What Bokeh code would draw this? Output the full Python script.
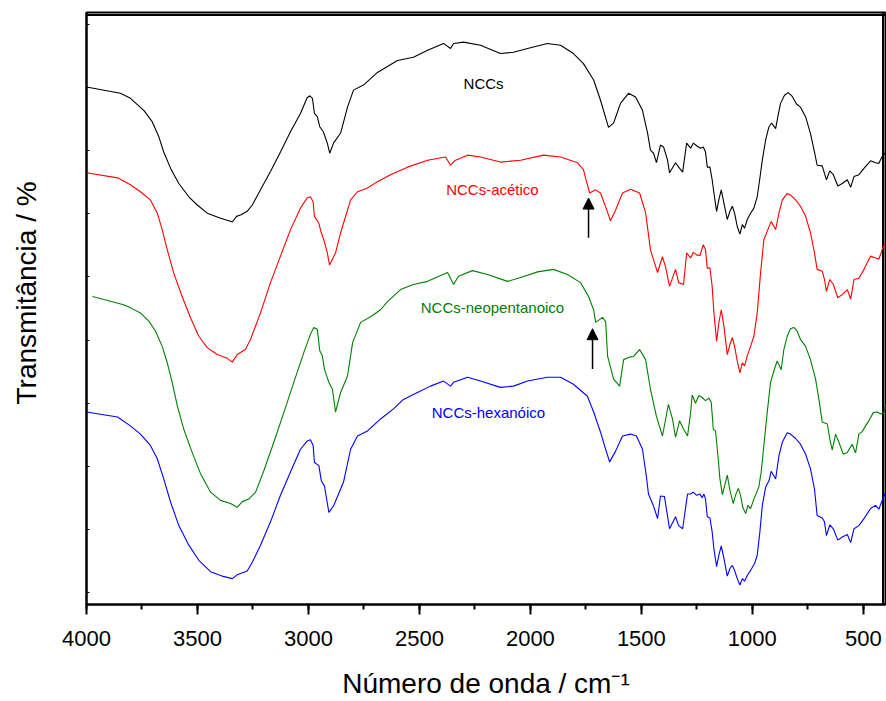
from bokeh.plotting import figure
from bokeh.models import (Range1d, SingleIntervalTicker, FixedTicker, Label, Arrow, NormalHead)
from bokeh.embed import file_html
from bokeh.resources import INLINE

# FTIR spectra (wavenumber in cm^-1, transmittance in offset arbitrary units)
nccs_wn = [4000, 3847, 3802, 3742, 3704, 3674, 3652, 3621, 3584, 3539, 3501, 3456, 3396, 3359, 3343, 3324,
           3306, 3276, 3253, 3216, 3171, 3126, 3081, 3036, 3006, 2994, 2982, 2973, 2960, 2949, 2933, 2915,
           2904, 2887, 2855, 2824, 2797, 2752, 2689, 2599, 2527, 2463, 2391, 2360, 2346, 2301, 2225, 2135,
           2076, 2013, 1923, 1864, 1806, 1761, 1715, 1684, 1648, 1625, 1594, 1558, 1526, 1495, 1472, 1459,
           1445, 1432, 1414, 1400, 1382, 1373, 1346, 1332, 1314, 1296, 1278, 1266, 1248, 1233, 1221, 1211,
           1203, 1191, 1181, 1173, 1161, 1151, 1140, 1128, 1113, 1101, 1090, 1080, 1068, 1056, 1045, 1035,
           1023, 1008, 993, 978, 967, 955, 940, 925, 913, 895, 885, 873, 855, 838, 820, 801, 783, 760, 738,
           720, 708, 685, 675, 666, 651, 635, 615, 595, 572, 557, 542, 520, 497, 467, 445, 430, 415, 400]
nccs_t = [80.1, 79.1, 78.3, 76.4, 74.6, 72.2, 69.8, 67.2, 64.8, 62.7, 61.4, 60.1, 59.3, 58.9, 58.7, 59.6,
          59.8, 60.4, 61.4, 63.8, 66.7, 69.8, 73.0, 75.9, 78.4, 78.7, 78.3, 75.9, 75.4, 73.8, 73.0, 71.2,
          69.6, 71.2, 72.8, 76.9, 79.6, 80.4, 82.4, 84.3, 84.8, 85.9, 87.0, 86.2, 87.0, 87.2, 86.7, 85.4,
          85.6, 86.2, 87.0, 86.7, 85.4, 83.8, 81.2, 78.0, 73.7, 74.4, 77.5, 79.1, 78.5, 76.4, 72.8, 70.1,
          69.6, 68.1, 70.9, 70.6, 68.5, 66.5, 68.1, 67.4, 66.6, 71.2, 70.4, 71.2, 70.7, 70.4, 70.6, 69.8,
          67.4, 67.4, 65.4, 63.3, 60.4, 62.2, 63.8, 61.7, 59.1, 60.4, 61.2, 60.1, 58.0, 56.8, 58.3, 57.7,
          59.1, 60.1, 60.9, 62.7, 65.4, 68.5, 71.7, 73.8, 74.4, 73.5, 75.4, 77.5, 78.8, 79.2, 78.6, 77.4, 76.9,
          75.4, 72.7, 69.8, 67.7, 67.6, 66.4, 65.4, 66.8, 66.2, 64.4, 64.8, 65.4, 64.2, 65.9, 66.2, 67.2,
          68.4, 68.1, 68.0, 69.1, 69.7]

acetico_wn = [4000, 3860, 3802, 3757, 3712, 3681, 3659, 3636, 3607, 3569, 3531, 3494, 3456, 3411, 3366, 3343,
              3321, 3284, 3261, 3216, 3171, 3126, 3081, 3036, 3006, 2991, 2979, 2973, 2953, 2942, 2931, 2915,
              2905, 2878, 2855, 2810, 2779, 2734, 2689, 2630, 2554, 2463, 2382, 2360, 2337, 2283, 2225, 2135,
              2044, 1941, 1864, 1788, 1761, 1747, 1733, 1706, 1684, 1661, 1639, 1616, 1585, 1549, 1508, 1481,
              1459, 1445, 1427, 1405, 1391, 1373, 1346, 1332, 1310, 1296, 1278, 1266, 1251, 1236, 1221, 1211,
              1203, 1191, 1181, 1173, 1161, 1151, 1140, 1128, 1113, 1101, 1090, 1080, 1068, 1056, 1045, 1035,
              1023, 1008, 993, 978, 963, 948, 930, 915, 895, 880, 865, 843, 828, 805, 783, 760, 738, 720, 708,
              685, 675, 666, 651, 635, 615, 595, 572, 557, 542, 520, 497, 467, 445, 430, 415, 400]
acetico_t = [66.5, 65.7, 64.6, 63.5, 62.2, 60.1, 57.5, 54.3, 50.6, 46.9, 43.5, 40.6, 38.8, 37.7, 37.1, 36.5,
             37.7, 38.5, 40.1, 44.3, 49.1, 53.3, 57.5, 60.9, 62.5, 62.7, 61.9, 59.6, 58.5, 57.0, 55.9, 53.8,
             51.9, 53.8, 57.0, 62.2, 63.5, 64.1, 65.1, 66.2, 67.4, 68.5, 69.0, 67.7, 68.5, 69.3, 69.0, 68.2,
             68.5, 69.3, 69.0, 68.1, 67.0, 65.1, 63.3, 63.8, 63.3, 61.1, 58.9, 60.6, 63.3, 63.9, 63.3, 60.2,
             54.3, 52.7, 50.7, 53.2, 51.6, 48.5, 51.2, 49.1, 48.8, 53.8, 53.0, 53.9, 53.5, 53.4, 55.1, 54.3,
             51.4, 51.4, 48.5, 44.3, 39.8, 42.7, 44.8, 42.2, 37.7, 39.3, 40.4, 39.0, 36.7, 34.8, 36.4, 35.9,
             37.5, 39.0, 40.6, 44.3, 50.6, 55.9, 57.5, 58.8, 57.5, 60.1, 62.2, 63.2, 63.0, 62.2, 61.2, 59.6,
             57.0, 53.8, 51.2, 50.9, 49.6, 47.7, 49.6, 48.8, 46.7, 47.2, 48.0, 46.5, 49.6, 49.8, 51.2, 53.3,
             53.0, 52.8, 54.3, 55.5]

neopent_wn = [3973, 3833, 3802, 3757, 3719, 3689, 3659, 3636, 3614, 3591, 3562, 3524, 3486, 3441, 3396, 3351,
              3321, 3298, 3269, 3238, 3201, 3156, 3111, 3066, 3021, 2991, 2976, 2960, 2949, 2938, 2928, 2908,
              2892, 2878, 2855, 2824, 2801, 2765, 2720, 2675, 2644, 2585, 2527, 2463, 2373, 2346, 2324, 2261,
              2193, 2103, 2044, 1968, 1896, 1833, 1774, 1738, 1715, 1706, 1675, 1661, 1652, 1625, 1598, 1580,
              1553, 1535, 1508, 1481, 1459, 1432, 1405, 1378, 1360, 1346, 1328, 1310, 1292, 1278, 1271, 1256,
              1241, 1226, 1211, 1196, 1185, 1176, 1166, 1155, 1146, 1135, 1125, 1113, 1101, 1086, 1076, 1063,
              1053, 1043, 1030, 1020, 1008, 993, 971, 960, 948, 933, 918, 903, 888, 870, 858, 843, 828, 813,
              798, 783, 760, 738, 715, 700, 685, 662, 651, 640, 625, 610, 590, 572, 550, 535, 520, 505, 490,
              475, 455, 437, 422, 407, 400]
neopent_t = [46.9, 45.6, 45.1, 44.3, 43.0, 41.4, 39.0, 36.4, 33.3, 29.6, 25.9, 22.2, 18.8, 15.9, 14.6, 14.1,
             13.5, 14.4, 14.8, 15.9, 19.3, 23.8, 28.5, 33.3, 38.0, 40.9, 42.0, 41.7, 38.3, 37.6, 35.4, 33.3,
             32.2, 28.6, 31.7, 34.3, 39.6, 42.8, 43.7, 44.8, 46.1, 48.0, 48.8, 49.3, 50.7, 48.8, 50.1, 51.0,
             50.4, 49.3, 49.9, 50.8, 51.2, 50.4, 49.1, 46.9, 44.8, 42.8, 43.6, 42.9, 37.4, 33.8, 32.7, 36.9,
             37.3, 37.4, 38.5, 36.9, 32.2, 27.9, 24.8, 29.8, 27.5, 24.6, 27.2, 25.9, 24.8, 28.5, 31.3, 30.0,
             31.2, 30.9, 30.4, 30.8, 30.1, 25.9, 25.6, 21.7, 18.0, 15.5, 16.9, 18.6, 16.2, 14.1, 15.4, 16.5,
             15.4, 13.5, 12.5, 13.8, 13.3, 14.8, 16.7, 19.1, 23.3, 28.5, 33.3, 35.1, 36.7, 35.3, 38.5, 40.6,
             41.8, 42.0, 41.4, 40.1, 39.0, 36.9, 33.8, 30.6, 27.0, 26.7, 24.3, 22.6, 25.1, 23.8, 21.9, 22.2,
             23.5, 22.1, 25.1, 25.5, 26.4, 27.2, 28.5, 28.6, 28.3, 28.4, 29.8]

hexanoico_wn = [4000, 3860, 3802, 3757, 3712, 3681, 3652, 3621, 3584, 3539, 3494, 3441, 3389, 3343, 3321, 3276,
                3253, 3216, 3171, 3126, 3081, 3036, 3006, 2991, 2979, 2973, 2953, 2942, 2928, 2908, 2887, 2855,
                2842, 2810, 2779, 2734, 2675, 2617, 2572, 2509, 2450, 2391, 2360, 2346, 2283, 2225, 2135, 2076,
                2013, 1923, 1864, 1806, 1743, 1715, 1684, 1661, 1643, 1616, 1585, 1549, 1522, 1495, 1477, 1468,
                1445, 1427, 1414, 1396, 1373, 1346, 1332, 1314, 1292, 1278, 1266, 1251, 1236, 1226, 1218, 1211,
                1203, 1191, 1181, 1173, 1161, 1151, 1140, 1128, 1113, 1101, 1090, 1080, 1068, 1056, 1045, 1035,
                1023, 1008, 990, 978, 966, 955, 940, 925, 915, 895, 880, 865, 843, 828, 805, 783, 760, 738, 720,
                708, 685, 675, 666, 651, 635, 615, 595, 572, 557, 542, 520, 497, 467, 445, 430, 415, 400]
hexanoico_t = [28.6, 27.8, 26.4, 25.1, 23.3, 21.2, 18.0, 14.3, 10.6, 7.5, 5.1, 3.3, 2.6, 2.2, 2.8, 3.4,
               4.8, 7.5, 11.2, 15.4, 19.1, 22.7, 24.0, 24.2, 23.3, 20.6, 20.1, 17.7, 16.9, 12.7, 13.7, 16.4,
               17.5, 22.7, 24.8, 25.6, 27.5, 29.1, 30.6, 31.7, 32.7, 33.5, 32.7, 33.3, 34.1, 33.5, 32.5, 32.7,
               33.5, 34.1, 34.1, 33.0, 31.1, 28.6, 25.4, 22.7, 20.7, 22.4, 24.8, 25.1, 24.8, 22.7, 18.3, 15.6,
               13.7, 11.7, 15.3, 15.2, 10.1, 12.0, 10.6, 10.1, 15.6, 15.6, 15.9, 15.4, 15.6, 15.0, 15.6, 14.8,
               12.0, 11.8, 9.6, 6.9, 4.1, 5.9, 7.4, 5.4, 2.6, 3.8, 4.3, 3.5, 2.2, 1.2, 2.2, 1.8,
               2.7, 3.5, 4.6, 5.9, 9.6, 13.8, 16.7, 17.7, 19.2, 18.0, 21.7, 23.8, 25.3, 25.1, 24.4, 23.5, 21.9,
               19.6, 16.4, 12.2, 11.8, 11.2, 9.0, 10.7, 10.1, 8.3, 8.8, 9.2, 7.9, 10.1, 10.6, 11.7, 13.3,
               13.8, 13.2, 14.6, 15.8]

series_names = ["NCCs", "NCCs-acético", "NCCs-neopentanoico", "NCCs-hexanóico"]
series_colors = ["#000000", "#ff0000", "#008000", "#0000ff"]
# centre of each in-plot name (wavenumber, transmittance)
name_wn = [2211, 2171, 2171, 2189]
name_t = [80.7, 63.8, 45.2, 28.6]

# ester C=O band markers (wavenumber, tail, tip)
arrow_wn = [1738, 1720]
arrow_tail = [56.2, 35.4]
arrow_tip = [62.5, 41.8]

x_ticks_interval = 500
y_ticks = [0, 10, 20, 30, 40, 50, 60, 70, 80, 90]

FONT = "Liberation Sans"
X_LO, X_HI = 4000, 400
Y_LO, Y_HI = -1.9, 91.9
FRAME_W, FRAME_H = 799, 594
EDGE_INSET_PX = 2.5

p = figure(width=886, height=701, output_backend="svg", toolbar_location=None,
           x_range=Range1d(X_LO, X_HI), y_range=Range1d(Y_LO, Y_HI),
           min_border_left=86, min_border_right=1, min_border_top=12, min_border_bottom=95)
p.background_fill_color = "white"
p.border_fill_color = "white"
p.grid.visible = False
p.outline_line_color = "black"
p.outline_line_width = 2

xa = p.xaxis[0]
xa.ticker = SingleIntervalTicker(interval=x_ticks_interval, num_minor_ticks=2)
xa.axis_line_width = 2
xa.major_tick_line_width = 2
xa.minor_tick_line_width = 2
xa.major_tick_in = 0
xa.major_tick_out = 10
xa.minor_tick_in = 0
xa.minor_tick_out = 5
xa.major_label_text_font = FONT
xa.major_label_text_font_size = "22px"
xa.major_label_text_color = "black"
xa.major_label_standoff = 16
xa.axis_label = "Número de onda / cm\u207b\u00b9"
xa.axis_label_text_font = FONT
xa.axis_label_text_font_size = "28px"
xa.axis_label_text_font_style = "normal"
xa.axis_label_text_color = "black"
xa.axis_label_standoff = 19

ya = p.yaxis[0]
ya.ticker = FixedTicker(ticks=y_ticks)
ya.axis_line_width = 2
ya.major_tick_line_width = 1
ya.major_tick_in = 3
ya.major_tick_out = 0
ya.minor_tick_line_color = None
ya.major_label_overrides = {t: "" for t in y_ticks}
# leading no-break spaces lift the title a little above the frame centre
ya.axis_label = "\u00a0" * 4 + "Transmitância / %"
ya.axis_label_text_font = FONT
ya.axis_label_text_font_size = "28px"
ya.axis_label_text_font_style = "normal"
ya.axis_label_text_color = "black"
ya.axis_label_standoff = 45

# top and right frame lines, drawn just inside the data area
y_top = Y_HI - EDGE_INSET_PX * (Y_HI - Y_LO) / FRAME_H
x_right = X_HI + EDGE_INSET_PX * (X_LO - X_HI) / FRAME_W
p.line([X_LO, X_HI], [y_top, y_top], line_color="black", line_width=2)
p.line([x_right, x_right], [Y_LO, Y_HI], line_color="black", line_width=2)

curves = [(nccs_wn, nccs_t), (acetico_wn, acetico_t), (neopent_wn, neopent_t), (hexanoico_wn, hexanoico_t)]
for (wn, t), color in zip(curves, series_colors):
    p.line(wn, t, line_color=color, line_width=1.1)

for name, color, xw, yt in zip(series_names, series_colors, name_wn, name_t):
    p.add_layout(Label(x=xw, y=yt, text=name, text_color=color, text_font=FONT,
                       text_font_size="15px", text_align="center", text_baseline="middle"))

for xw, y0, y1 in zip(arrow_wn, arrow_tail, arrow_tip):
    p.add_layout(Arrow(x_start=xw, y_start=y0, x_end=xw, y_end=y1, line_color="black", line_width=1.5,
                       end=NormalHead(size=11, fill_color="black", line_color="black", line_width=1)))

open("out.html", "w").write(file_html(p, INLINE))
